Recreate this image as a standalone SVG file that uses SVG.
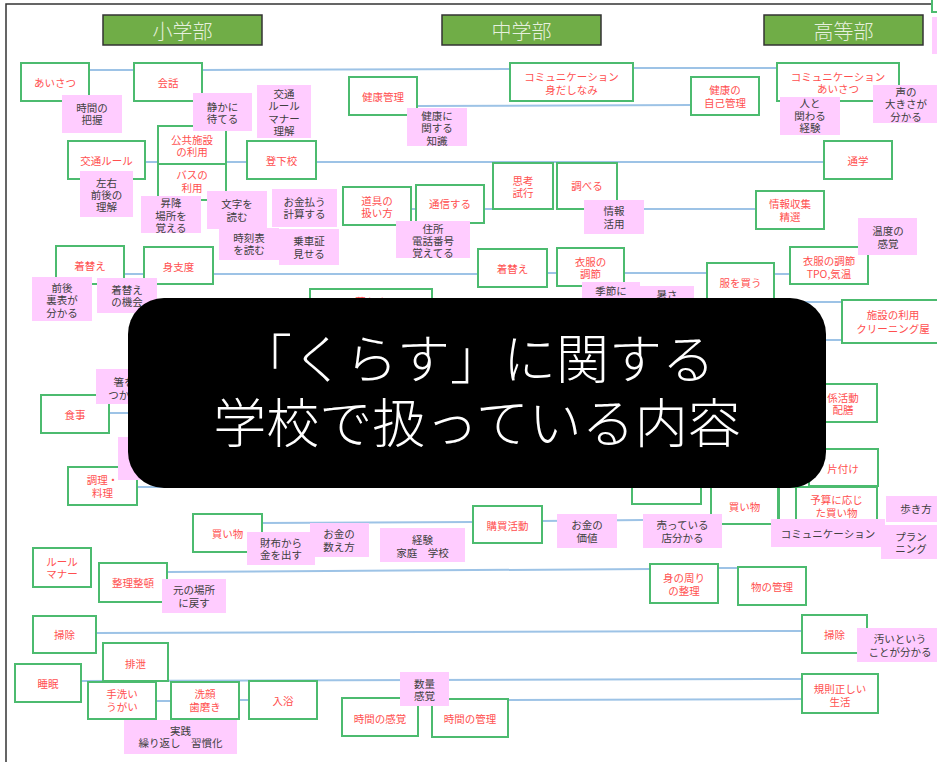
<svg xmlns="http://www.w3.org/2000/svg" width="937" height="762" viewBox="0 0 937 762">
<style>
text{font-family:"Noto Sans CJK JP","Noto Sans",sans-serif;font-size:10.5px;text-anchor:middle;dominant-baseline:central}
.g rect{fill:#fff;stroke:#4cbb6f;stroke-width:2}
.g text{fill:#ff4f4f}
.p rect{fill:#ffccff}
.p text{fill:#404040}
.h rect{fill:#70ad47;stroke:#333;stroke-width:1.5}
.h text{fill:#e6f0de;font-size:20px;font-weight:300}
#connectors line{stroke:#9dc3e6;stroke-width:2}
.t{fill:#fff;font-size:53px;font-weight:300}
</style>
<rect x="0" y="0" width="937" height="762" fill="#fff"/>
<path d="M6,762 V4 H937" fill="none" stroke="#333" stroke-width="1.5"/>
<g id="connectors">
<line x1="89" y1="70" x2="134" y2="70"/>
<line x1="202" y1="70" x2="510" y2="69"/>
<line x1="633" y1="68" x2="777" y2="68"/>
<line x1="417" y1="106" x2="691" y2="105"/>
<line x1="145" y1="162" x2="158" y2="162"/>
<line x1="226" y1="162" x2="247" y2="162"/>
<line x1="316" y1="162" x2="824" y2="162"/>
<line x1="411" y1="209" x2="416" y2="209"/>
<line x1="484" y1="209" x2="493" y2="209"/>
<line x1="617" y1="209" x2="756" y2="209"/>
<line x1="124" y1="274" x2="144" y2="274"/>
<line x1="213" y1="274" x2="478" y2="274"/>
<line x1="547" y1="273" x2="557" y2="273"/>
<line x1="624" y1="273" x2="707" y2="273"/>
<line x1="774" y1="274" x2="790" y2="274"/>
<line x1="700" y1="302" x2="842" y2="302"/>
<line x1="700" y1="340" x2="842" y2="340"/>
<line x1="109" y1="413" x2="300" y2="413"/>
<line x1="137" y1="487" x2="300" y2="487"/>
<line x1="262" y1="523" x2="473" y2="522"/>
<line x1="542" y1="521" x2="643" y2="520"/>
<line x1="167" y1="572" x2="650" y2="569"/>
<line x1="718" y1="568" x2="738" y2="568"/>
<line x1="96" y1="633" x2="802" y2="631"/>
<line x1="81" y1="681" x2="802" y2="679"/>
<line x1="156" y1="701" x2="171" y2="701"/>
<line x1="239" y1="700" x2="249" y2="700"/>
<line x1="508" y1="700" x2="802" y2="699"/>
</g>
<g class="g">
<g id="n-aisatsu"><rect x="21" y="63" width="68" height="38"/><text x="55" y="82">あいさつ</text></g>
<g id="n-kaiwa"><rect x="134" y="63" width="68" height="38"/><text x="168" y="82">会話</text></g>
<g id="n-koutsu"><rect x="68" y="141" width="77" height="38"/><text x="106.5" y="160">交通ルール</text></g>
<g id="n-koukyou"><rect x="158" y="126" width="68" height="38"/><text x="192" y="139">公共施設</text><text x="192" y="151.5">の利用</text></g>
<g id="n-bus"><rect x="158" y="164" width="68" height="36"/><text x="192" y="174.5">バスの</text><text x="192" y="187">利用</text></g>
<g id="n-gekou"><rect x="247" y="141" width="69" height="38"/><text x="281.5" y="160">登下校</text></g>
<g id="n-kigae1"><rect x="56" y="246" width="68" height="38"/><text x="90" y="265">着替え</text></g>
<g id="n-mijitaku"><rect x="144" y="247" width="69" height="37"/><text x="178.5" y="266">身支度</text></g>
<g id="n-kurasu"><rect x="310" y="289" width="122" height="40"/><text x="371" y="301">暮らす</text></g>
<g id="n-shokuji"><rect x="41" y="395" width="68" height="38"/><text x="75" y="414">食事</text></g>
<g id="n-chouri"><rect x="68" y="467" width="69" height="38"/><text x="102.5" y="479">調理・</text><text x="102.5" y="492">料理</text></g>
<g id="n-kaimono1"><rect x="193" y="514" width="69" height="38"/><text x="227.5" y="533">買い物</text></g>
<g id="n-rule"><rect x="33" y="548" width="58" height="39"/><text x="62" y="561">ルール</text><text x="62" y="573.5">マナー</text></g>
<g id="n-seiri"><rect x="99" y="563" width="68" height="39"/><text x="133" y="582">整理整頓</text></g>
<g id="n-souji1"><rect x="33" y="616" width="63" height="37"/><text x="64.5" y="634">掃除</text></g>
<g id="n-haisetsu"><rect x="103" y="643" width="65" height="38"/><text x="135.5" y="663">排泄</text></g>
<g id="n-suimin"><rect x="15" y="664" width="66" height="38"/><text x="48" y="683">睡眠</text></g>
<g id="n-tearai"><rect x="88" y="682" width="68" height="37"/><text x="122" y="693.5">手洗い</text><text x="122" y="706">うがい</text></g>
<g id="n-senkan"><rect x="171" y="682" width="68" height="37"/><text x="205" y="693.5">洗顔</text><text x="205" y="706">歯磨き</text></g>
<g id="n-nyuuyoku"><rect x="249" y="681" width="68" height="38"/><text x="283" y="700">入浴</text></g>
<g id="n-kenkou"><rect x="349" y="77" width="68" height="38"/><text x="383" y="96">健康管理</text></g>
<g id="n-comm1"><rect x="510" y="63" width="123" height="38"/><text x="571.5" y="76">コミュニケーション</text><text x="571.5" y="89">身だしなみ</text></g>
<g id="n-dougu"><rect x="343" y="187" width="68" height="38"/><text x="377" y="200">道具の</text><text x="377" y="212.5">扱い方</text></g>
<g id="n-tsuushin"><rect x="416" y="185" width="68" height="38"/><text x="450" y="203">通信する</text></g>
<g id="n-shikou"><rect x="493" y="163" width="60" height="46"/><text x="523" y="180">思考</text><text x="523" y="192.5">試行</text></g>
<g id="n-shiraberu"><rect x="557" y="163" width="60" height="46"/><text x="587" y="185">調べる</text></g>
<g id="n-kigae2"><rect x="478" y="249" width="69" height="38"/><text x="512.5" y="268">着替え</text></g>
<g id="n-ifuku"><rect x="557" y="248" width="67" height="38"/><text x="590.5" y="261">衣服の</text><text x="590.5" y="273.5">調節</text></g>
<g id="n-koubai"><rect x="473" y="506" width="69" height="37"/><text x="507.5" y="525">購買活動</text></g>
<g id="n-jikankankaku"><rect x="342" y="698" width="76" height="38"/><text x="380" y="718">時間の感覚</text></g>
<g id="n-jikankanri"><rect x="432" y="699" width="76" height="38"/><text x="470" y="718">時間の管理</text></g>
<g id="n-kenkou2"><rect x="691" y="77" width="68" height="38"/><text x="725" y="89.5">健康の</text><text x="725" y="102">自己管理</text></g>
<g id="n-comm2"><rect x="777" y="63" width="122" height="38"/><text x="838" y="76">コミュニケーション</text><text x="838" y="88.5">あいさつ</text></g>
<g id="n-tsuugaku"><rect x="824" y="141" width="68" height="38"/><text x="858" y="160">通学</text></g>
<g id="n-jouhou"><rect x="756" y="191" width="68" height="38"/><text x="790" y="203.5">情報収集</text><text x="790" y="216">精選</text></g>
<g id="n-ifuku2"><rect x="790" y="247" width="78" height="37"/><text x="829" y="260">衣服の調節</text><text x="829" y="273">TPO,気温</text></g>
<g id="n-fuku"><rect x="707" y="263" width="67" height="50"/><text x="740.5" y="282">服を買う</text></g>
<g id="n-shisetsu"><rect x="842" y="300" width="102" height="43"/><text x="893" y="314">施設の利用</text><text x="893" y="328">クリーニング屋</text></g>
<g id="n-kakari"><rect x="809" y="384" width="68" height="38"/><text x="843" y="397">係活動</text><text x="843" y="409.5">配膳</text></g>
<g id="n-katazuke"><rect x="809" y="449" width="69" height="37"/><text x="843" y="468">片付け</text></g>
<g id="n-hidden2"><rect x="632" y="466" width="69" height="38"/></g>
<g id="n-kaimono2"><rect x="711" y="486" width="67" height="38"/><text x="744.5" y="506">買い物</text></g>
<g id="n-hidden"><rect x="779" y="487" width="17" height="33"/></g>
<g id="n-yosan"><rect x="796" y="487" width="81" height="36"/><text x="836.5" y="499">予算に応じ</text><text x="836.5" y="512">た買い物</text></g>
<g id="n-mi"><rect x="650" y="564" width="68" height="39"/><text x="684" y="577">身の周り</text><text x="684" y="590">の整理</text></g>
<g id="n-mono"><rect x="738" y="567" width="68" height="38"/><text x="772" y="586">物の管理</text></g>
<g id="n-souji2"><rect x="802" y="615" width="65" height="38"/><text x="834.5" y="634">掃除</text></g>
<g id="n-kisoku"><rect x="802" y="674" width="76" height="39"/><text x="840" y="688">規則正しい</text><text x="840" y="701">生活</text></g>
<g id="n-corner"><rect x="932" y="-4" width="12" height="16"/></g>
</g>
<g class="p">
<g id="p-jikan"><rect x="62" y="95" width="60" height="38"/><text x="92" y="107">時間の</text><text x="92" y="119.5">把握</text></g>
<g id="p-shizuka"><rect x="193" y="93" width="59" height="38"/><text x="222.5" y="106">静かに</text><text x="222.5" y="118.5">待てる</text></g>
<g id="p-koutsu"><rect x="257" y="85" width="54" height="53"/><text x="284" y="93">交通</text><text x="284" y="105.5">ルール</text><text x="284" y="118">マナー</text><text x="284" y="130.5">理解</text></g>
<g id="p-sayuu"><rect x="80" y="171" width="53" height="46"/><text x="106.5" y="182">左右</text><text x="106.5" y="194">前後の</text><text x="106.5" y="206">理解</text></g>
<g id="p-shoukou"><rect x="141" y="196" width="60" height="37"/><text x="171" y="202.5">昇降</text><text x="171" y="215">場所を</text><text x="171" y="227.5">覚える</text></g>
<g id="p-moji"><rect x="207" y="191" width="60" height="38"/><text x="237" y="203.5">文字を</text><text x="237" y="216.5">読む</text></g>
<g id="p-okane"><rect x="272" y="189" width="65" height="38"/><text x="304.5" y="201">お金払う</text><text x="304.5" y="213.5">計算する</text></g>
<g id="p-jikoku"><rect x="219" y="228" width="60" height="32"/><text x="249" y="237">時刻表</text><text x="249" y="249.5">を読む</text></g>
<g id="p-jousha"><rect x="279" y="229" width="60" height="36"/><text x="309" y="240">乗車証</text><text x="309" y="253">見せる</text></g>
<g id="p-zengo"><rect x="32" y="277" width="60" height="44"/><text x="62" y="287">前後</text><text x="62" y="299.5">裏表が</text><text x="62" y="312">分かる</text></g>
<g id="p-kigae"><rect x="97" y="278" width="60" height="35"/><text x="127" y="289">着替え</text><text x="127" y="301.5">の機会</text></g>
<g id="p-hashi"><rect x="96" y="369" width="56" height="35"/><text x="124" y="381.5">箸を</text><text x="124" y="394">つかう</text></g>
<g id="p-hidden"><rect x="118" y="437" width="40" height="43"/></g>
<g id="p-kenkou"><rect x="407" y="108" width="60" height="38"/><text x="437" y="115">健康に</text><text x="437" y="127.5">関する</text><text x="437" y="140">知識</text></g>
<g id="p-juusho"><rect x="396" y="221" width="74" height="37"/><text x="433" y="228">住所</text><text x="433" y="240">電話番号</text><text x="433" y="252">覚えてる</text></g>
<g id="p-jouhou"><rect x="584" y="200" width="60" height="34"/><text x="614" y="210">情報</text><text x="614" y="223">活用</text></g>
<g id="p-kisetsu"><rect x="582" y="282" width="58" height="20"/><text x="611" y="290">季節に</text></g>
<g id="p-atsusa"><rect x="640" y="286" width="54" height="14"/><text x="667" y="294">暑さ</text></g>
<g id="p-hito"><rect x="780" y="97" width="60" height="38"/><text x="810" y="102.5">人と</text><text x="810" y="115">関わる</text><text x="810" y="127.5">経験</text></g>
<g id="p-koe"><rect x="873" y="85" width="64" height="38"/><text x="906" y="91">声の</text><text x="906" y="103.5">大きさが</text><text x="906" y="116">分かる</text></g>
<g id="p-ondo"><rect x="858" y="218" width="59" height="37"/><text x="888" y="230">温度の</text><text x="888" y="243">感覚</text></g>
<g id="p-saifu"><rect x="247" y="532" width="68" height="33"/><text x="281" y="542">財布から</text><text x="281" y="554.5">金を出す</text></g>
<g id="p-kazoe"><rect x="310" y="523" width="59" height="34"/><text x="339" y="533">お金の</text><text x="339" y="546">数え方</text></g>
<g id="p-keiken"><rect x="380" y="528" width="85" height="34"/><text x="422.5" y="539">経験</text><text x="422.5" y="552">家庭　学校</text></g>
<g id="p-kachi"><rect x="557" y="514" width="60" height="34"/><text x="587" y="524.5">お金の</text><text x="587" y="537">価値</text></g>
<g id="p-utte"><rect x="643" y="514" width="79" height="34"/><text x="682.5" y="524.5">売っている</text><text x="682.5" y="537">店分かる</text></g>
<g id="p-comm"><rect x="771" y="519" width="114" height="28"/><text x="828" y="533">コミュニケーション</text></g>
<g id="p-aruki"><rect x="886" y="496" width="60" height="26"/><text x="916" y="508">歩き方</text></g>
<g id="p-plan"><rect x="881" y="525" width="60" height="34"/><text x="911" y="536">プラン</text><text x="911" y="548.5">ニング</text></g>
<g id="p-moto"><rect x="162" y="579" width="64" height="34"/><text x="194" y="589.5">元の場所</text><text x="194" y="602">に戻す</text></g>
<g id="p-kitanai"><rect x="857" y="628" width="86" height="34"/><text x="900" y="638.5">汚いという</text><text x="900" y="651">ことが分かる</text></g>
<g id="p-jissen"><rect x="124" y="720" width="113" height="34"/><text x="180.5" y="730">実践</text><text x="180.5" y="742.5">繰り返し　習慣化</text></g>
<g id="p-suuryou"><rect x="400" y="672" width="49" height="34"/><text x="424.5" y="683">数量</text><text x="424.5" y="695">感覚</text></g>
<g id="p-corner"><rect x="932" y="17" width="8" height="37"/></g>
</g>
<g class="h">
<g id="h-shou"><rect x="103" y="15" width="159" height="30"/><text x="182.5" y="30">小学部</text></g>
<g id="h-chuu"><rect x="442" y="15" width="159" height="30"/><text x="521.5" y="30">中学部</text></g>
<g id="h-kou"><rect x="764" y="15" width="159" height="30"/><text x="843.5" y="30">高等部</text></g>
</g>
<g id="title">
<rect x="128" y="298" width="698" height="190" rx="36" fill="#000"/>
<text class="t" x="477" y="356">「くらす」に関する</text>
<text class="t" x="477" y="420">学校で扱っている内容</text>
</g>
</svg>
